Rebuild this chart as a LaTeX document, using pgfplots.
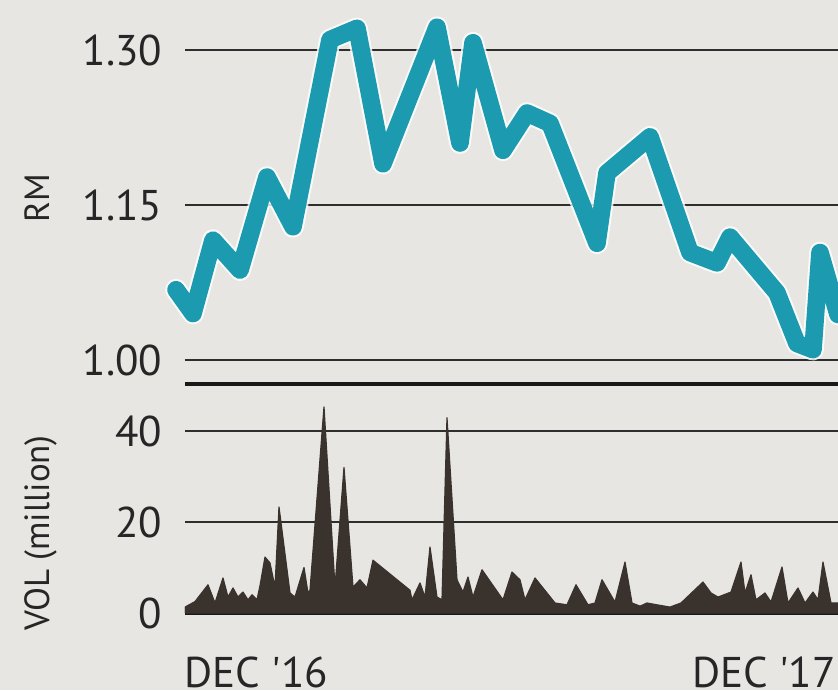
\documentclass[border=0pt]{standalone}
\usepackage{fontspec}
\setmainfont{PT Sans}
\usepackage{pgfplots}
\pgfplotsset{compat=1.18}
\definecolor{paper}{HTML}{E8E6E3}
\definecolor{tealc}{HTML}{1C9AB0}
\definecolor{volc}{HTML}{3A322D}
\definecolor{gridc}{HTML}{2E2E2E}
\begin{document}
\begin{tikzpicture}
\fill[paper] (0,0) rectangle (209.5pt,172.5pt);
% price panel
\begin{axis}[
  at={(46.25pt,82.5pt)}, anchor=south west,
  scale only axis, width=163.25pt, height=90pt,
  xmin=0, xmax=653, ymin=1.0, ymax=1.348387,
  clip=false,
  axis line style={draw=none},
  xtick=\empty,
  ytick={1.00,1.15,1.30},
  yticklabels={1.00,1.15,1.30},
  major tick length=0pt,
  ymajorgrids, xmajorgrids=false,
  grid style={line width=0.65pt, gridc},
  yticklabel style={font=\fontsize{10.75}{12}\selectfont, inner sep=0pt, anchor=east, xshift=-5.5pt, text=black!85},
  /pgf/number format/assume math mode=true,
]
\addplot[white, opacity=0.8, line width=5.4pt, line join=round, line cap=round] coordinates {
(-9,1.068) (8,1.045) (28,1.116) (55,1.087) (82,1.177) (108,1.129) (145,1.310) (172,1.321) (198,1.190) (252,1.322) (275,1.210) (288,1.307) (318,1.203) (342,1.239) (365,1.229) (412,1.113) (422,1.181) (465,1.216) (505,1.104) (532,1.094) (545,1.119) (592,1.065) (612,1.016) (628,1.010) (635,1.104) (653,1.044)
};
\addplot[tealc, line width=4.4pt, line join=round, line cap=round] coordinates {
(-9,1.068) (8,1.045) (28,1.116) (55,1.087) (82,1.177) (108,1.129) (145,1.310) (172,1.321) (198,1.190) (252,1.322) (275,1.210) (288,1.307) (318,1.203) (342,1.239) (365,1.229) (412,1.113) (422,1.181) (465,1.216) (505,1.104) (532,1.094) (545,1.119) (592,1.065) (612,1.016) (628,1.010) (635,1.104) (653,1.044)
};
\end{axis}
% volume panel
\begin{axis}[
  at={(46.25pt,19.25pt)}, anchor=south west,
  scale only axis, width=163.25pt, height=57.25pt,
  xmin=0, xmax=653, ymin=0, ymax=50.33,
  axis line style={draw=none},
  xtick={71.5,579},
  xticklabels={DEC \textquotesingle16,DEC \textquotesingle17},
  xticklabel style={font=\fontsize{10.75}{12}\selectfont, inner sep=0pt, anchor=north, yshift=-10.75pt, text=black!85},
  ytick={20,40},
  major tick length=0pt,
  ymajorgrids, xmajorgrids=false,
  grid style={line width=0.65pt, gridc},
  extra y ticks={0,50.33},
  extra y tick labels={0,},
  extra y tick style={grid style={line width=1.1pt, black!90}},
  yticklabel style={font=\fontsize{10.75}{12}\selectfont, inner sep=0pt, anchor=east, xshift=-5.5pt, text=black!85},
  /pgf/number format/assume math mode=true,
]
\addplot[fill=volc, draw=volc, line width=0.3pt, line join=round] coordinates {
(0,1.3) (10,2.5) (23,6.2) (30,2.2) (38,7.7) (43,3.5) (48,5.5) (53,3.5) (58,4.6) (63,2.9) (67,4.0) (72,2.9) (75,6) (80,12.3) (85,11) (90,5.7) (94,23.3) (105,4.4) (110,3.5) (119,10) (123,4.4) (125,5) (139,45.3) (150,5.7) (159,32) (168,5.7) (175,7.3) (182,5.5) (188,11.6) (225,5.0) (227,2.9) (235,6.6) (240,3.5) (245,14.5) (252,3.5) (257,2.9) (262,42.9) (272,7.3) (278,4.6) (283,7.9) (288,3.5) (297,9.5) (318,2.9) (327,9.0) (335,7.3) (340,2.9) (350,7.7) (370,2.2) (382,1.8) (391,6.2) (403,1.8) (410,2.2) (417,7.3) (430,2.4) (440,11.2) (447,2.2) (455,1.5) (462,2.2) (472,1.8) (485,1.3) (496,2.2) (518,6.8) (526,4.4) (533,3.5) (546,4.6) (556,11.2) (560,4.4) (566,8.4) (571,2.9) (580,4.4) (586,2.4) (597,10.1) (603,2.2) (613,5.5) (620,2.2) (628,4.6) (633,2.9) (638,11.2) (646,2.2) (653,2.2)
} \closedcycle;
\end{axis}
\node[rotate=90, font=\fontsize{8.75}{10}\selectfont, text=black!85] at (9.25pt,123pt) {RM};
\node[rotate=90, font=\fontsize{8.75}{10}\selectfont, text=black!85] at (10.25pt,39.25pt) {VOL (million)};
\pgfresetboundingbox
\path[use as bounding box] (0,0) rectangle (209.5pt,172.5pt);
\end{tikzpicture}
\end{document}
